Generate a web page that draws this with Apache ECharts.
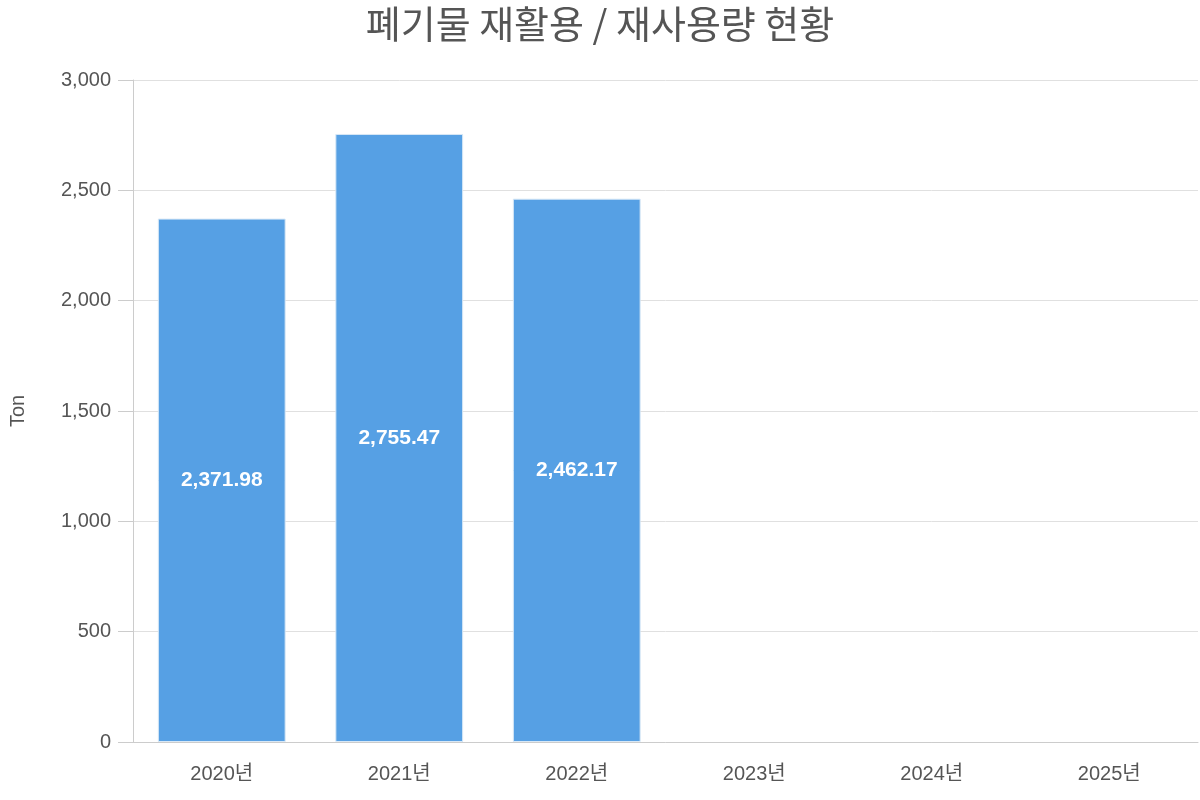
<!DOCTYPE html>
<html><head><meta charset="utf-8">
<script src="https://cdn.jsdelivr.net/npm/echarts@6/dist/echarts.min.js"></script>
<style>html,body{margin:0;padding:0;background:#fff}#c{width:1200px;height:800px}</style>
</head><body><div id="c"></div>
<script>
const categories = ['2020년','2021년','2022년','2023년','2024년','2025년'];
const values = [2371.98, 2755.47, 2462.17, null, null, null];
const F = "'Liberation Sans', 'Noto Sans CJK KR', sans-serif";
const chart = echarts.init(document.getElementById('c'));
chart.setOption({
  animation:false,
  title:{text:'폐기물 재활용 / 재사용량 현황',left:'center',top:0,textStyle:{fontFamily:"'Noto Sans CJK KR'",fontSize:38,fontWeight:'normal',color:'#555'}},
  grid:{left:133,right:2,top:80,bottom:58},
  xAxis:{type:'category',data:categories,axisLine:{lineStyle:{color:'#ccc'}},axisTick:{show:false},
    axisLabel:{fontFamily:F,fontSize:20,color:'#555',margin:22}},
  yAxis:{type:'value',min:0,max:3000,interval:500,name:'Ton',nameLocation:'middle',nameGap:105,nameRotate:90,
    nameTextStyle:{fontFamily:F,fontSize:20,color:'#555'},
    axisLine:{show:true,lineStyle:{color:'#ccc'}},axisTick:{show:true,length:15,lineStyle:{color:'#ccc'}},
    axisLabel:{fontFamily:F,fontSize:20,color:'#555',margin:22,formatter:v=>v.toLocaleString('en-US')},
    splitLine:{lineStyle:{color:'#e0e0e0'}}},
  series:[{type:'bar',data:values,barWidth:'72%',
    itemStyle:{color:'#56a0e4',borderColor:'#d8e8f6',borderWidth:1},
    label:{show:true,position:'inside',color:'#fff',fontFamily:F,fontWeight:'bold',fontSize:21,
      formatter:p=>p.value.toLocaleString('en-US',{minimumFractionDigits:2,maximumFractionDigits:2})}}]
});
</script></body></html>
